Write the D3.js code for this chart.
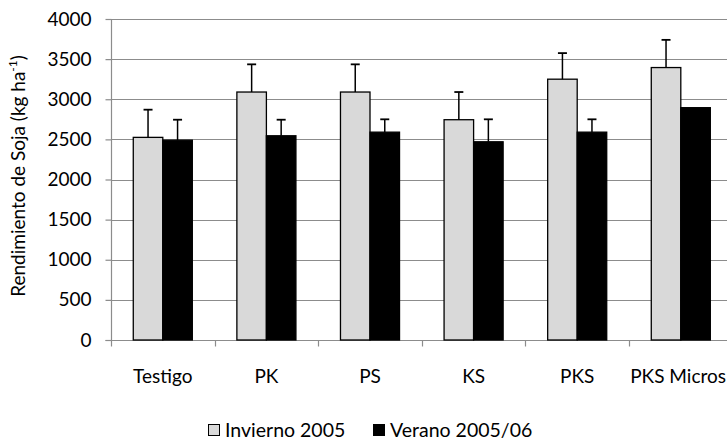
<!DOCTYPE html>
<html>
<head>
<meta charset="utf-8">
<script src="https://cdn.jsdelivr.net/npm/d3@7/dist/d3.min.js"></script>
<style>
  html, body { margin: 0; padding: 0; background: #fff; }
  svg { display: block; font-family: Lato, "Open Sans", sans-serif; }
</style>
</head>
<body>
<svg id="chart" width="727" height="440"></svg>
<script>
// Soybean yield by fertiliser treatment, two seasons
const categories = ["Testigo", "PK", "PS", "KS", "PKS", "PKS Micros"];
const seriesNames = ["Invierno 2005", "Verano 2005/06"];
const invierno = [2525, 3090, 3090, 2745, 3250, 3395];
const inviernoErr = [345, 345, 345, 345, 325, 345];
const verano = [2490, 2545, 2590, 2470, 2590, 2895];
const veranoErr = [255, 200, 160, 280, 160, 0];
const yTicks = [0, 500, 1000, 1500, 2000, 2500, 3000, 3500, 4000];
const seriesColors = ["#d9d9d9", "#000000"];

const svg = d3.select("#chart");
const W = 727;
const margin = { left: 111, top: 19, bottom: 340 };
const plotRight = 732.6;
const fontSize = 19;

const x = d3.scaleBand().domain(categories)
  .range([margin.left, plotRight]).paddingInner(0.43).paddingOuter(0.215);
const xs = d3.scaleBand().domain(seriesNames).range([0, x.bandwidth()]);
const y = d3.scaleLinear().domain([0, 4000]).range([margin.bottom, margin.top]);

// horizontal gridlines
svg.append("g").selectAll("line").data(yTicks.filter(d => d > 0)).join("line")
  .attr("x1", margin.left).attr("x2", W)
  .attr("y1", d => Math.round(y(d)) + 0.5).attr("y2", d => Math.round(y(d)) + 0.5)
  .attr("stroke", "#8c8c8c").attr("stroke-width", 1.2);

// y axis
const yAxis = svg.append("g").attr("transform", `translate(${margin.left + 0.5},0)`)
  .call(d3.axisLeft(y).tickValues(yTicks).tickSize(6).tickPadding(14).tickFormat(d3.format("d")));
yAxis.select(".domain").attr("stroke", "#8c8c8c").attr("stroke-width", 1.2).attr("d", `M-6,${margin.bottom+0.5}H0V${margin.top}`);
yAxis.selectAll(".tick line").attr("stroke", "#8c8c8c").attr("stroke-width", 1.2);
yAxis.selectAll(".tick text").attr("font-size", fontSize).attr("fill", "#000").attr("font-family", "Lato, sans-serif");

// x axis
const xAxis = svg.append("g").attr("transform", `translate(0,${Math.round(y(0)) + 0.5})`);
xAxis.append("line").attr("x1", margin.left).attr("x2", W).attr("stroke", "#8c8c8c").attr("stroke-width", 1.2);
const bounds = d3.range(categories.length).map(i => x.range()[0] + i * x.step());
xAxis.selectAll("line.tk").data(bounds).join("line").attr("class", "tk")
  .attr("x1", d => Math.round(d) + 0.5).attr("x2", d => Math.round(d) + 0.5)
  .attr("y1", 0).attr("y2", 6).attr("stroke", "#8c8c8c").attr("stroke-width", 1.2);
xAxis.selectAll("text").data(categories).join("text")
  .attr("x", d => x(d) + x.bandwidth() / 2).attr("y", 42)
  .attr("text-anchor", "middle").attr("font-size", fontSize).text(d => d)
  .each(function () {
    // keep the last label inside the drawing area
    const len = this.getComputedTextLength();
    const cx = +this.getAttribute("x");
    if (cx + len / 2 > W - 1) this.setAttribute("x", W - 1 - len / 2);
  });

// bars + error bars
const rows = categories.map((c, i) => [
  { cat: c, s: seriesNames[0], v: invierno[i], e: inviernoErr[i], fill: seriesColors[0] },
  { cat: c, s: seriesNames[1], v: verano[i], e: veranoErr[i], fill: seriesColors[1] }
]).flat();

const g = svg.append("g");
g.selectAll("rect").data(rows).join("rect")
  .attr("x", d => x(d.cat) + xs(d.s))
  .attr("y", d => y(d.v))
  .attr("width", xs.bandwidth())
  .attr("height", d => y(0) - y(d.v))
  .attr("fill", d => d.fill)
  .attr("stroke", "#000").attr("stroke-width", 1.3);

const eb = g.selectAll("g.err").data(rows.filter(d => d.e > 0)).join("g").attr("class", "err");
eb.append("line")
  .attr("x1", d => x(d.cat) + xs(d.s) + xs.bandwidth() / 2)
  .attr("x2", d => x(d.cat) + xs(d.s) + xs.bandwidth() / 2)
  .attr("y1", d => y(d.v)).attr("y2", d => y(d.v + d.e))
  .attr("stroke", "#000").attr("stroke-width", 1.5);
eb.append("line")
  .attr("x1", d => x(d.cat) + xs(d.s) + xs.bandwidth() / 2 - 4.5)
  .attr("x2", d => x(d.cat) + xs(d.s) + xs.bandwidth() / 2 + 4.5)
  .attr("y1", d => y(d.v + d.e)).attr("y2", d => y(d.v + d.e))
  .attr("stroke", "#000").attr("stroke-width", 1.8);

// y axis title
const title = svg.append("text")
  .attr("transform", "translate(25,176) rotate(-90)")
  .attr("text-anchor", "middle").attr("font-size", fontSize);
title.append("tspan").text("Rendimiento de Soja (kg ha");
title.append("tspan").attr("font-size", 12).attr("dy", -8).text("-1");
title.append("tspan").attr("dy", 8).text(")");

// legend
const legendX = [208, 373];
const lg = svg.append("g").selectAll("g").data(seriesNames).join("g")
  .attr("transform", (d, i) => `translate(${legendX[i]},424)`);
lg.append("rect").attr("x", 0.5).attr("y", 0.5).attr("width", 11).attr("height", 11)
  .attr("fill", (d, i) => seriesColors[i]).attr("stroke", "#000").attr("stroke-width", 1);
lg.append("text").attr("x", 17).attr("y", 12.5).attr("font-size", fontSize + 0.5).text(d => d);
</script>
</body>
</html>
